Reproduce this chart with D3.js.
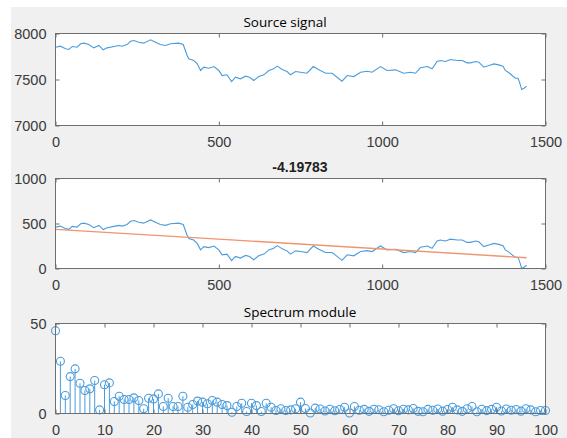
<!DOCTYPE html>
<html><head><meta charset="utf-8">
<script src="https://cdn.jsdelivr.net/npm/d3@7"></script>
<style>
html,body{margin:0;padding:0;background:#fff;}
svg{display:block;}
</style></head>
<body>
<svg id="c" width="567" height="438"></svg>
<script>
// ---- data ----
const sigT = [0,15,31,41,51,66,77,87,102,117,133,146,158,179,194,204,219,230,240,255,270,291,306,321,337,352,377,391,403,408,423,434,444,454,469,485,500,510,525,539,551,566,582,594,607,622,638,653,668,679,694,709,719,735,750,770,789,806,827,847,862,877,893,913,934,954,969,995,1015,1041,1066,1087,1102,1117,1138,1153,1168,1178,1194,1209,1230,1245,1260,1270,1286,1296,1311,1327,1342,1357,1370,1377,1388,1398,1408,1416,1422,1427,1434,1442];
const sigV = [7851,7862,7834,7826,7859,7851,7888,7895,7880,7844,7870,7823,7844,7859,7870,7862,7880,7916,7924,7905,7895,7931,7905,7880,7870,7888,7895,7880,7761,7725,7707,7670,7598,7634,7623,7641,7598,7543,7551,7478,7525,7507,7536,7525,7489,7532,7551,7598,7616,7645,7609,7587,7551,7587,7579,7568,7641,7605,7568,7568,7525,7482,7543,7532,7579,7590,7579,7641,7598,7605,7568,7579,7568,7627,7641,7616,7696,7707,7696,7717,7707,7707,7681,7681,7696,7688,7634,7652,7670,7659,7645,7598,7573,7543,7514,7514,7453,7391,7405,7427];
const fitX = [0, 1442];
const fitY = [435, 120];
const specV = [46,29,10,20.5,24.8,16.8,12.8,13.7,18.3,2,16,17,6.7,9.6,7.8,7.8,8.7,7.2,2.6,8.5,8.1,10.9,3.9,8.5,3.9,3.9,9.6,3.5,5,6.9,6.3,5.4,7.2,6.3,5,4.4,0.7,3.9,5.7,1.1,5.7,4.4,1.1,5.7,3.5,1.7,2.6,1.7,2,2.6,6.3,2.8,0.3,3,2.5,1.4,2.4,1.5,2.2,3.5,0.3,3.9,1.8,2.3,1.2,2.4,2.1,1.0,1.8,2.6,1.5,2.4,2.0,2.8,1.2,1.0,2.3,1.8,2.5,1.3,2.2,3.5,2.0,1.2,2.6,3.9,1.0,2.4,1.6,2.3,3.5,1.4,2.5,1.8,2.2,1.3,2.6,2.0,1.0,1.7,1.7];
const title1 = "Source signal", title2 = "-4.19783", title3 = "Spectrum module";
const x1Ticks = [0,500,1000,1500], y1Ticks = [7000,7500,8000], y2Ticks = [0,500,1000];
const x3Ticks = [0,10,20,30,40,50,60,70,80,90,100], y3Ticks = [0,50];

// ---- drawing ----
const svg = d3.select("#c");
svg.append("rect").attr("x",11).attr("y",7).attr("width",556).attr("height",431).attr("fill","#f0f0f0");

const L = 55.5, R = 545.5;
const blue = "#4a9cdc", orange = "#ef9470";
const tickFont = "Liberation Sans, Arial, sans-serif";
const fmt = d3.format("d");

function makeAxes(top, bottom, xDomain, yDomain, xTicks, yTicks, title, bold, titleX){
  const x = d3.scaleLinear().domain(xDomain).range([L, R]);
  const y = d3.scaleLinear().domain(yDomain).range([bottom, top]);
  const g = svg.append("g");
  g.append("rect").attr("x",L).attr("y",top).attr("width",R-L).attr("height",bottom-top).attr("fill","#fff");
  const plot = g.append("g");
  const ax = g.append("g");
  ax.append("rect").attr("x",L).attr("y",top).attr("width",R-L).attr("height",bottom-top)
    .attr("fill","none").attr("stroke","#6e6e6e").attr("stroke-width",1);
  const xb = d3.axisBottom(x).tickValues(xTicks).tickFormat(fmt).tickSizeInner(-4).tickSizeOuter(0).tickPadding(11);
  const xt = d3.axisTop(x).tickValues(xTicks).tickSizeInner(-4).tickSizeOuter(0).tickFormat("");
  const yl = d3.axisLeft(y).tickValues(yTicks).tickFormat(fmt).tickSizeInner(-4).tickSizeOuter(0).tickPadding(9);
  const yr = d3.axisRight(y).tickValues(yTicks).tickSizeInner(-4).tickSizeOuter(0).tickFormat("");
  [[xb,`translate(0,${bottom})`],[xt,`translate(0,${top})`],[yl,`translate(${L},0)`],[yr,`translate(${R},0)`]].forEach(([a,t])=>{
    const s = ax.append("g").attr("transform",t).call(a);
    s.select(".domain").remove();
    s.selectAll("line").attr("stroke","#6e6e6e");
    s.selectAll("text").attr("fill","#3a3a3a").style("font-family",tickFont).style("font-size","14.5px");
  });
  g.append("text").attr("x",titleX).attr("y",top-7).attr("text-anchor","middle")
    .style("font-family", bold ? tickFont : "Open Sans, sans-serif")
    .style("font-weight", bold ? "bold" : "normal")
    .style("font-size", bold ? "14px" : "13.5px")
    .attr("fill", bold ? "#202020" : "#000").text(title);
  return {x,y,plot,top,bottom};
}

// plot 1
const p1 = makeAxes(33.5,125.5,[0,1500],[7000,8000],x1Ticks,y1Ticks,title1,false,285);
const pts1 = sigT.map((t,i)=>[t,sigV[i]]);
p1.plot.append("path").datum(pts1).attr("fill","none").attr("stroke",blue).attr("stroke-width",1.1)
  .attr("d", d3.line().x(d=>p1.x(d[0])).y(d=>p1.y(d[1])));

// plot 2
const minV = d3.min(sigV);
const p2 = makeAxes(178.5,268.5,[0,1500],[0,1000],x1Ticks,y2Ticks,title2,true,300);
const pts2 = sigT.map((t,i)=>[t,sigV[i]-minV]);
p2.plot.append("path").datum(pts2).attr("fill","none").attr("stroke",blue).attr("stroke-width",1.1)
  .attr("d", d3.line().x(d=>p2.x(d[0])).y(d=>p2.y(d[1])));
p2.plot.append("path").datum(fitX.map((t,i)=>[t,fitY[i]])).attr("fill","none").attr("stroke",orange).attr("stroke-width",1.4)
  .attr("d", d3.line().x(d=>p2.x(d[0])).y(d=>p2.y(d[1])));

// plot 3
const p3 = makeAxes(323.5,413.5,[0,100],[0,50],x3Ticks,y3Ticks,title3,false,300);
const sp = specV.map((v,i)=>[i,v]);
p3.plot.selectAll("line.stem").data(sp).join("line").attr("class","stem")
  .attr("x1",d=>p3.x(d[0])).attr("x2",d=>p3.x(d[0])).attr("y1",p3.y(0)).attr("y2",d=>p3.y(d[1]))
  .attr("stroke",blue).attr("stroke-width",1);
p3.plot.selectAll("circle").data(sp).join("circle")
  .attr("cx",d=>p3.x(d[0])).attr("cy",d=>p3.y(d[1])).attr("r",4)
  .attr("fill","none").attr("stroke",blue).attr("stroke-width",1.1);
</script>
</body></html>
